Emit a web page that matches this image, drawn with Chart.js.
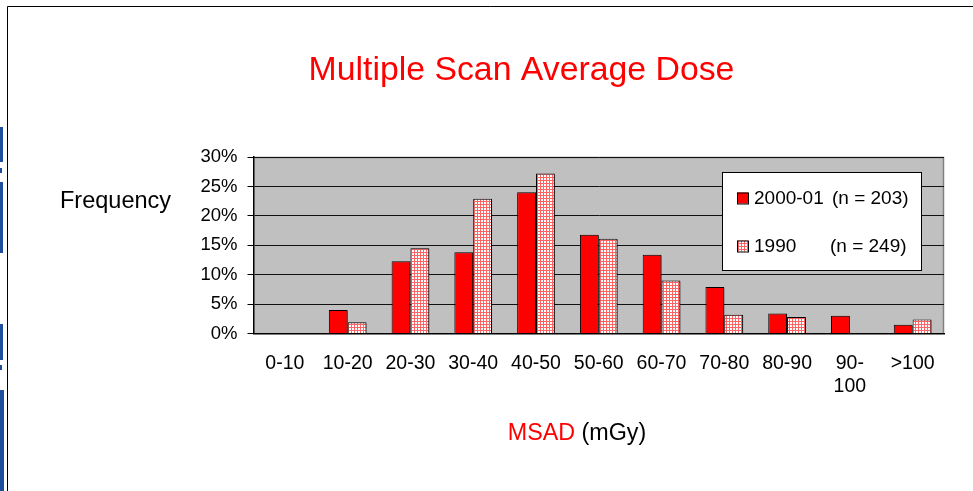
<!DOCTYPE html>
<html>
<head>
<meta charset="utf-8">
<script src="https://cdn.jsdelivr.net/npm/chart.js@4.4.1/dist/chart.umd.min.js"></script>
<style>
  html, body { margin: 0; padding: 0; background: #fff; }
  #wrap { position: relative; width: 973px; height: 491px; }
</style>
</head>
<body>
<div id="wrap"><canvas id="c" width="973" height="491"></canvas></div>
<script>
// ---- data ----
const categories = ['0-10', '10-20', '20-30', '30-40', '40-50', '50-60', '60-70', '70-80', '80-90', ['90-', '100'], '>100'];
const series2000 = [0, 4.0, 12.3, 13.8, 24.0, 16.8, 13.4, 7.9, 3.4, 3.0, 1.5];
const series1990 = [0, 1.9, 14.5, 22.9, 27.2, 16.1, 9.0, 3.2, 2.8, 0, 2.4];
const seriesNames = ['2000-01', '1990'];
const seriesCounts = ['(n = 203)', '(n = 249)'];
const yTicks = [0, 5, 10, 15, 20, 25, 30];

const FONT = '"Liberation Sans", Arial, Helvetica, sans-serif';

// pattern fill for the 1990 series: white with red grid
function makePattern() {
  const t = document.createElement('canvas');
  t.width = 3; t.height = 3;
  const g = t.getContext('2d');
  g.fillStyle = '#ffffff';
  g.fillRect(0, 0, 3, 3);
  g.fillStyle = 'rgb(255,100,100)';
  g.fillRect(0, 0, 3, 1);
  g.fillRect(0, 0, 1, 3);
  return document.getElementById('c').getContext('2d').createPattern(t, 'repeat');
}
const gridPattern = makePattern();

const decorPlugin = {
  id: 'decor',
  beforeDraw(chart) {
    const { ctx, chartArea: a } = chart;
    ctx.save();
    // frame
    ctx.strokeStyle = '#000';
    ctx.lineWidth = 1;
    ctx.beginPath();
    ctx.moveTo(7.5, 491); ctx.lineTo(7.5, 6.5); ctx.lineTo(973, 6.5);
    ctx.stroke();
    // blue slide fragments at left edge
    ctx.fillStyle = '#1f4f9c';
    [[127, 35, 3], [168, 5, 2], [182, 71, 3], [324, 36, 3], [365, 5, 2], [390, 101, 4]].forEach(([y, h, w]) => ctx.fillRect(0, y, w, h));
    // plot area background
    ctx.fillStyle = '#c0c0c0';
    ctx.fillRect(a.left, a.top, a.right - a.left, a.bottom - a.top);
    ctx.strokeStyle = '#808080';
    ctx.lineWidth = 1.5;
    ctx.beginPath();
    ctx.moveTo(a.left, a.top + 0.5); ctx.lineTo(a.right - 0.5, a.top + 0.5); ctx.lineTo(a.right - 0.5, a.bottom);
    ctx.stroke();
    ctx.restore();
  },
  beforeDatasetsDraw(chart) {
    const ctx = chart.ctx;
    ctx.save();
    ctx.shadowColor = 'rgba(0,0,0,0.45)';
    ctx.shadowOffsetX = 2;
    ctx.shadowOffsetY = 1;
    ctx.shadowBlur = 0;
  },
  afterDatasetsDraw(chart) {
    chart.ctx.restore();
  },
  afterDraw(chart) {
    const { ctx } = chart;
    ctx.save();
    // title
    ctx.fillStyle = '#ff0000';
    ctx.font = '33.8px ' + FONT;
    ctx.textAlign = 'center';
    ctx.textBaseline = 'alphabetic';
    ctx.fillText('Multiple Scan Average Dose', 521.5, 80);
    // y title
    ctx.fillStyle = '#000';
    ctx.font = '23.5px ' + FONT;
    ctx.textAlign = 'left';
    ctx.fillText('Frequency', 60, 208);
    // x title: MSAD (red) + (mGy)
    ctx.font = '23.3px ' + FONT;
    const p1 = 'MSAD', p2 = ' (mGy)';
    const w1 = ctx.measureText(p1).width, w2 = ctx.measureText(p2).width;
    const x0 = 577 - (w1 + w2) / 2;
    ctx.fillStyle = '#ff0000';
    ctx.fillText(p1, x0, 440);
    ctx.fillStyle = '#000';
    ctx.fillText(p2, x0 + w1, 440);
    // legend
    const lx = 722.5, ly = 172.5, lw = 199, lh = 98;
    ctx.fillStyle = '#fff';
    ctx.fillRect(lx, ly, lw, lh);
    ctx.strokeStyle = '#000';
    ctx.lineWidth = 1;
    ctx.strokeRect(lx, ly, lw, lh);
    const rows = [198, 246];
    ctx.font = '19px ' + FONT;
    ctx.textBaseline = 'middle';
    chart.data.datasets.forEach((ds, i) => {
      const y = rows[i];
      ctx.fillStyle = ds.backgroundColor;
      ctx.fillRect(737, y - 5.5, 11, 11);
      ctx.strokeStyle = '#000';
      ctx.strokeRect(737.5, y - 5, 11, 11);
      ctx.fillStyle = '#000';
      ctx.textAlign = 'left';
      ctx.fillText(seriesNames[i], 754, y + 1);
      ctx.fillText(seriesCounts[i], i === 0 ? 832 : 830, y + 1);
    });
    ctx.restore();
  }
};

new Chart(document.getElementById('c'), {
  type: 'bar',
  data: {
    labels: categories,
    datasets: [
      { label: seriesNames[0] + ' ' + seriesCounts[0], data: series2000, backgroundColor: '#ff0000', borderColor: '#000', borderWidth: 1, borderSkipped: 'bottom' },
      { label: seriesNames[1] + ' ' + seriesCounts[1], data: series1990, backgroundColor: gridPattern, borderColor: '#000', borderWidth: 1, borderSkipped: 'bottom' }
    ]
  },
  options: {
    responsive: false,
    animation: false,
    events: [],
    layout: { padding: { top: 157, right: 29, bottom: 0, left: 0 } },
    plugins: { legend: { display: false }, title: { display: false }, tooltip: { enabled: false } },
    datasets: { bar: { categoryPercentage: 0.6, barPercentage: 1.0 } },
    scales: {
      x: {
        grid: { display: false, drawTicks: false },
        border: { display: true, color: '#000', width: 1.5 },
        ticks: { color: '#000', font: { family: FONT, size: 19.5, lineHeight: 1.15 }, padding: 19, maxRotation: 0, autoSkip: false },
        afterFit(s) { s.height = 491 - 333.5; }
      },
      y: {
        min: 0, max: 30,
        afterBuildTicks(s) { s.ticks = yTicks.map(v => ({ value: v })); },
        grid: { color: '#111', lineWidth: 1, tickLength: 6, tickColor: '#000' },
        border: { display: true, color: '#000', width: 1.5 },
        ticks: { color: '#000', font: { family: FONT, size: 18.5 }, padding: 10, callback: v => v + '%' },
        afterFit(s) { s.width = 253.5; }
      }
    }
  },
  plugins: [decorPlugin]
});
</script>
</body>
</html>
